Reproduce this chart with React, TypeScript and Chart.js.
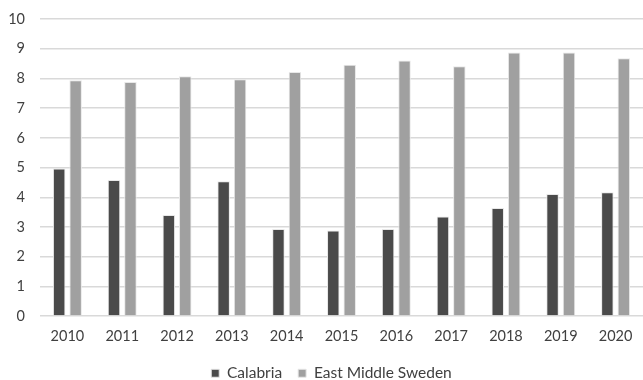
import React, { useEffect, useRef } from "react";
import { Chart, registerables } from "chart.js";

Chart.register(...registerables);

const years = ["2010", "2011", "2012", "2013", "2014", "2015", "2016", "2017", "2018", "2019", "2020"];
const calabria = [4.97, 4.58, 3.4, 4.54, 2.93, 2.88, 2.93, 3.35, 3.64, 4.11, 4.17];
const eastMiddleSweden = [7.94, 7.88, 8.07, 7.97, 8.22, 8.46, 8.6, 8.41, 8.87, 8.87, 8.68];
const yTicks = [0, 1, 2, 3, 4, 5, 6, 7, 8, 9, 10];

const legendShift = {
  id: "legendShift",
  afterLayout(chart: any) {
    if (chart.legend) {
      chart.legend.left += 10;
      chart.legend.right += 10;
    }
  },
};

export default function App() {
  const ref = useRef<HTMLCanvasElement | null>(null);
  useEffect(() => {
    if (!ref.current) return;
    const family = "Lato, 'Open Sans', sans-serif";
    const tickFont = { family, size: 14.5 };
    const legendFont = { family, size: 15.5 };
    const chart = new Chart(ref.current, {
      type: "bar",
      plugins: [legendShift],
      data: {
        labels: years,
        datasets: [
          {
            label: "Calabria",
            data: calabria,
            backgroundColor: "#4a4a4a",
            borderColor: "#e8e8e8",
            borderWidth: 1,
          },
          {
            label: "East Middle Sweden",
            data: eastMiddleSweden,
            backgroundColor: "#a0a0a0",
            borderColor: "#e8e8e8",
            borderWidth: 1,
          },
        ],
      },
      options: {
        animation: false,
        responsive: true,
        maintainAspectRatio: false,
        datasets: { bar: { categoryPercentage: 0.6, barPercentage: 0.76 } },
        layout: { padding: { top: 19, right: 0, left: 0, bottom: 0 } },
        scales: {
          x: {
            grid: { display: false },
            border: { display: false },
            ticks: { color: "#404040", font: tickFont, padding: 4, maxRotation: 0 },
          },
          y: {
            min: 0,
            max: 10,
            afterBuildTicks: (axis: any) => {
              axis.ticks = yTicks.map((v) => ({ value: v }));
            },
            afterFit: (axis: any) => {
              axis.width = 40;
              axis.paddingTop = 0;
            },
            grid: { color: "#d9d9d9", lineWidth: 1.5, drawTicks: false },
            border: { display: false },
            ticks: { color: "#404040", font: tickFont, padding: 15 },
          },
        },
        plugins: {
          legend: {
            position: "bottom",
            labels: {
              color: "#404040",
              font: legendFont,
              boxWidth: 8,
              boxHeight: 8,
              padding: 16,
              useBorderRadius: false,
            },
          },
          tooltip: { enabled: false },
        },
      },
    });
    return () => chart.destroy();
  }, []);
  return (
    <div style={{ position: "fixed", left: 0, top: 0, width: 643, height: 391, background: "#fff" }}>
      <canvas ref={ref} />
    </div>
  );
}
